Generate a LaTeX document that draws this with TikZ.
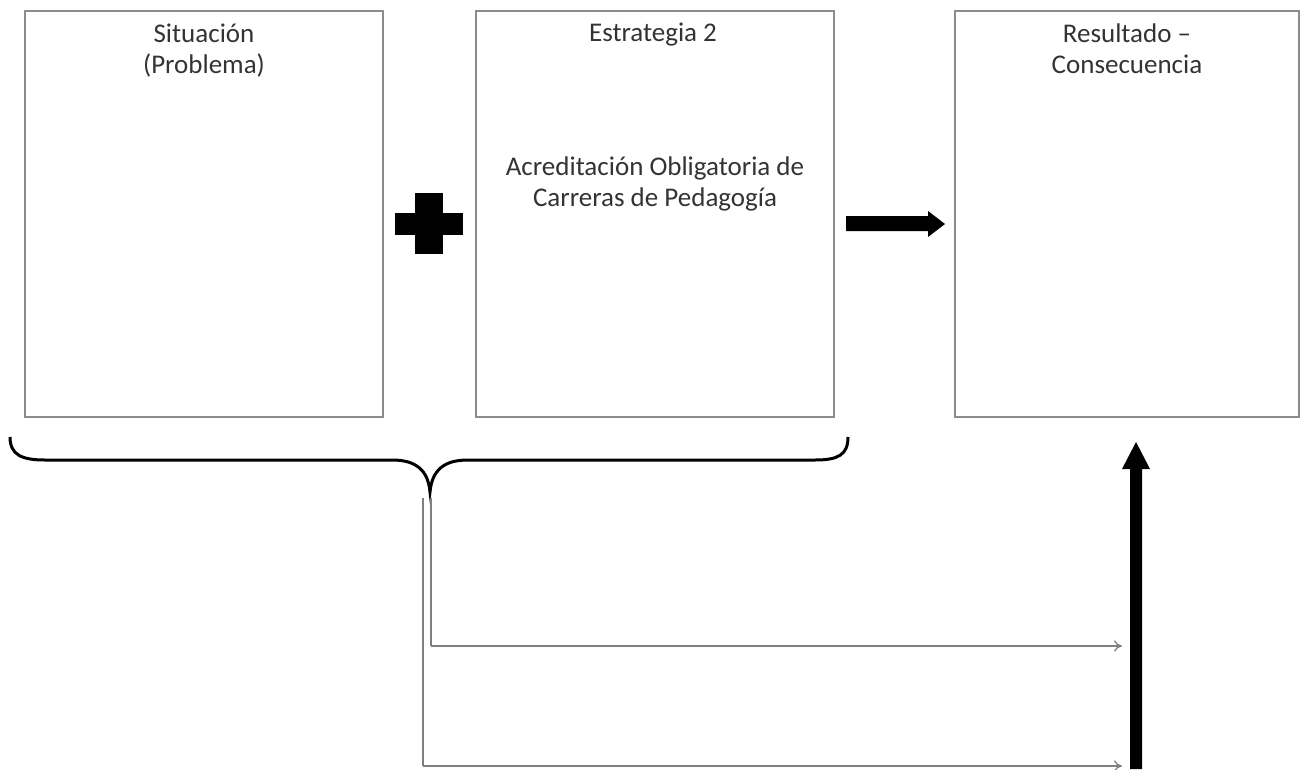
\documentclass[tikz,border=0pt]{standalone}
\usepackage{fontspec}
\setmainfont{Carlito}
\usetikzlibrary{arrows.meta}
\begin{document}
\begin{tikzpicture}[x=1pt,y=-1pt,
  box/.style={draw=black!45,line width=1.4pt,inner sep=0pt},
  lbl/.style={font=\fontsize{27}{31}\selectfont,text=black!80,align=center,anchor=base,inner sep=0pt},
  thinline/.style={draw=black!50,line width=1.3pt},
  thinarrow/.style={thinline,-{To[length=8pt,width=11pt]}},
  blk/.style={fill=black,draw=none}]
\useasboundingbox (0,0) rectangle (1301,769);
% boxes
\node[box,minimum width=358pt,minimum height=406pt] (b1) at (204,214) {};
\node[box,minimum width=358pt,minimum height=406pt] (b2) at (655,214) {};
\node[box,minimum width=344pt,minimum height=406pt] (b3) at (1127,214) {};
% texts
\node[lbl] (t1) at (204,73) {Situación\\(Problema)};
\node[lbl] (t2) at (653,41) {Estrategia 2};
\node[lbl] (t3) at (1127,73) {Resultado –\\Consecuencia};
\node[lbl] (t4) at (655,206) {Acreditación Obligatoria de\\Carreras de Pedagogía};
% plus sign
\path[blk] (415,193) rectangle (443,254);
\path[blk] (395,213) rectangle (463,235);
% right arrow
\path[blk] (846,216) -- (928,216) -- (928,211) -- (945,224) -- (928,237) -- (928,231) -- (846,231) -- cycle;
% brace
\coordinate (brL) at (10,437);
\coordinate (brR) at (848,437);
\coordinate (tip) at (430,492);
\draw[line width=3pt] (brL) .. controls (10,455) and (22,460) .. (45,460) -- (392,460) .. controls (416,460) and (428,470) .. (tip)
  .. controls (432,470) and (444,460) .. (468,460) -- (815,460) .. controls (838,460) and (848,455) .. (brR);
% connectors
\coordinate (a1) at (431,498);
\coordinate (a2) at (423,498);
\coordinate (c1) at (431,646);
\coordinate (c2) at (423,766);
\coordinate (e1) at (1122,646);
\coordinate (e2) at (1122,766);
\draw[thinline] (a1) -- (c1);
\draw[thinarrow] (c1) -- (e1);
\draw[thinline] (a2) -- (c2);
\draw[thinarrow] (c2) -- (e2);
% thick up arrow
\coordinate (ub) at (1136,769);
\coordinate (ut) at (1136,442);
\path[blk] (1130,769) -- (1130,469) -- (1122,469) -- (ut) -- (1150,469) -- (1142,469) -- (1142,769) -- cycle;
\end{tikzpicture}
\end{document}
